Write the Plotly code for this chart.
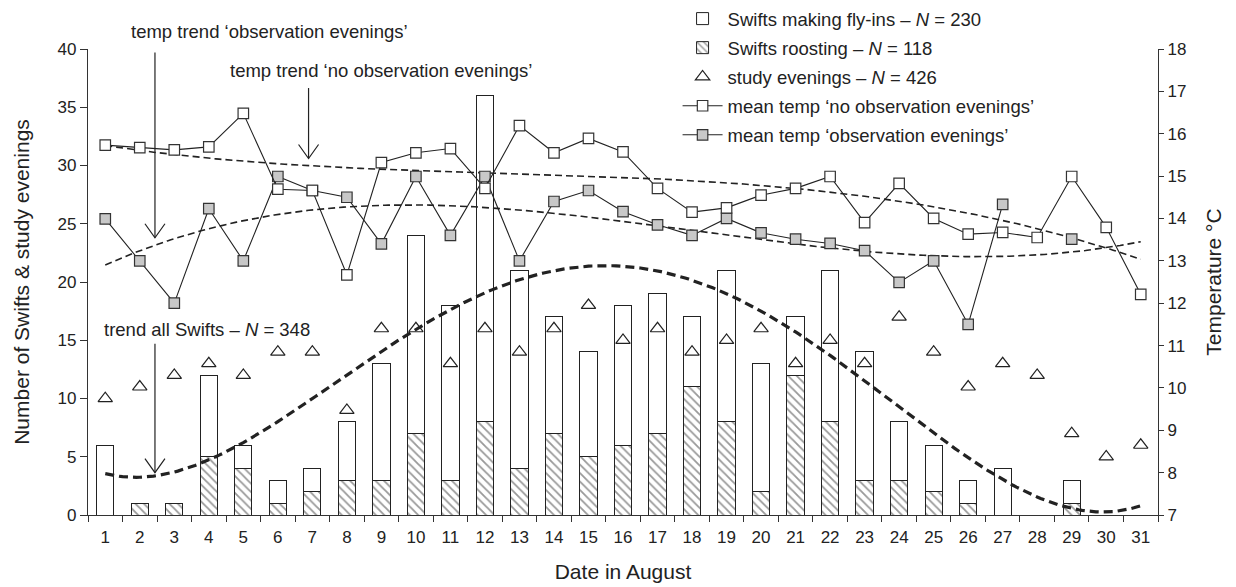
import numpy as np
import plotly.graph_objects as go
from plotly.subplots import make_subplots

# ---- data -------------------------------------------------------------
days = list(range(1, 32))

fly_ins = [6, 0, 0, 7, 2, 2, 2, 5, 10, 17, 15, 28, 17, 10, 9, 12,
           12, 6, 13, 11, 5, 13, 11, 5, 4, 2, 4, 0, 2, 0, 0]
roosting = [0, 1, 1, 5, 4, 1, 2, 3, 3, 7, 3, 8, 4, 7, 5, 6,
            7, 11, 8, 2, 12, 8, 3, 3, 2, 1, 0, 0, 1, 0, 0]
study_evenings = [10, 11, 12, 13, 12, 14, 14, 9, 16, 16, 13, 16, 14, 16, 18, 15,
                  16, 14, 15, 16, 13, 15, 13, 17, 14, 11, 13, 12, 7, 5, 6]

temp_no_obs = [15.73, 15.67, 15.62, 15.69, 16.48, 14.69, 14.66, 12.67, 15.32, 15.55,
               15.65, 14.71, 16.19, 15.55, 15.89, 15.57, 14.71, 14.15, 14.25, 14.55,
               14.71, 14.99, 13.90, 14.83, 14.00, 13.63, 13.67, 13.55, 14.99, 13.79, 12.21]
temp_obs = [13.99, 13.00, 12.00, 14.23, 13.00, 14.99, 14.66, 14.50, 13.40, 14.99,
            13.60, 14.99, 13.00, 14.40, 14.66, 14.16, 13.85, 13.60, 14.00, 13.66,
            13.51, 13.41, 13.24, 12.49, 13.00, 11.50, 14.33, None, 13.51, None, None]

x_ticks = days

# ---- polynomial trend lines ------------------------------------------
all_swifts = [f + r for f, r in zip(fly_ins, roosting)]
xs = np.linspace(1, 31, 301)


def poly_trend(x, y, deg):
    pts = [(a, b) for a, b in zip(x, y) if b is not None]
    px, py = zip(*pts)
    coef = np.polyfit(px, py, deg)
    return np.polyval(coef, xs)


trend_all = poly_trend(days, all_swifts, 4)
trend_no_obs = poly_trend(days, temp_no_obs, 3)
trend_obs = poly_trend(days, temp_obs, 3)


def drop_zero(values):
    # empty bars are left out so no outline is drawn on the baseline
    return [v if v else None for v in values]


# ---- styling ----------------------------------------------------------
FONT = "Liberation Sans, Arial, Helvetica, sans-serif"
INK = "#222222"
EDGE = "#333333"
BAR_EDGE = "#222222"
GREY = "#c8c8c8"

fig = make_subplots(specs=[[{"secondary_y": True}]])

fig.add_trace(go.Bar(
    x=days, y=drop_zero(roosting), name="Swifts roosting – <i>N</i> = 118",
    width=0.5, legendrank=2, legendgroup="b",
    marker=dict(color="white", line=dict(color=BAR_EDGE, width=1.0),
                pattern=dict(shape="\\", fgcolor="#333333", bgcolor="white",
                             size=6, solidity=0.3)),
), secondary_y=False)

fig.add_trace(go.Bar(
    x=days, y=drop_zero(fly_ins), name="Swifts making fly-ins – <i>N</i> = 230",
    width=0.5, legendrank=1, legendgroup="a",
    marker=dict(color="white", line=dict(color=BAR_EDGE, width=1.0)),
), secondary_y=False)

fig.add_trace(go.Scatter(
    x=xs, y=trend_all, mode="lines", showlegend=False, hoverinfo="skip",
    line=dict(color=INK, width=3.2, dash="9px,5px"),
), secondary_y=False)

fig.add_trace(go.Scatter(
    x=days, y=study_evenings, mode="markers", name="study evenings – <i>N</i> = 426",
    legendrank=3, legendgroup="c",
    marker=dict(symbol="triangle-up-open", size=12.5, color=INK, line=dict(width=1.2)),
), secondary_y=False)

fig.add_trace(go.Scatter(
    x=xs, y=trend_no_obs, mode="lines", showlegend=False, hoverinfo="skip",
    line=dict(color=INK, width=1.6, dash="7px,4px"),
), secondary_y=True)

fig.add_trace(go.Scatter(
    x=xs, y=trend_obs, mode="lines", showlegend=False, hoverinfo="skip",
    line=dict(color=INK, width=1.6, dash="7px,4px"),
), secondary_y=True)

fig.add_trace(go.Scatter(
    x=days, y=temp_obs, mode="lines+markers",
    name="mean temp ‘observation evenings’", legendrank=5, legendgroup="e",
    line=dict(color=INK, width=1.1),
    marker=dict(symbol="square", size=10.5, color=GREY, line=dict(color=EDGE, width=1.2)),
), secondary_y=True)

fig.add_trace(go.Scatter(
    x=days, y=temp_no_obs, mode="lines+markers",
    name="mean temp ‘no observation evenings’", legendrank=4, legendgroup="d",
    line=dict(color=INK, width=1.1),
    marker=dict(symbol="square", size=10.5, color="white", line=dict(color=EDGE, width=1.2)),
), secondary_y=True)

# ---- labelled arrows --------------------------------------------------
arrows = [
    # (arrow x, arrow top, arrow tip)
    (2.44, 39.7, 23.8),
    (6.89, 36.65, 30.6),
    (2.44, 14.7, 3.63),
]
for ax_x, y_top, y_tip in arrows:
    fig.add_shape(type="line", x0=ax_x, x1=ax_x, y0=y_top, y1=y_tip,
                  xref="x", yref="y", line=dict(color=INK, width=1.2))
    fig.add_shape(type="path", xref="x", yref="y",
                  xsizemode="pixel", ysizemode="pixel",
                  xanchor=ax_x, yanchor=y_tip,
                  path="M-10,14 L0,0 L10,14",
                  line=dict(color=INK, width=1.2))

labels = [
    # (text, x, y, yref)
    ("temp trend ‘observation evenings’", 5.75, 1.0365, "paper"),
    ("temp trend ‘no observation evenings’", 9.0, 38.15, "y"),
    ("trend all Swifts – <i>N</i> = 348", 3.95, 15.9, "y"),
]
for text, lx, ly, yref in labels:
    fig.add_annotation(x=lx, y=ly, xref="x", yref=yref, text=text,
                       showarrow=False, font=dict(size=18.5, color=INK, family=FONT),
                       xanchor="center", yanchor="middle")

# ---- layout -----------------------------------------------------------
fig.update_layout(
    width=1236, height=587,
    margin=dict(l=88, r=78, t=49, b=72, autoexpand=False),
    barmode="stack", bargap=0.5,
    plot_bgcolor="white", paper_bgcolor="white",
    font=dict(family=FONT, size=17, color=INK),
    showlegend=True,
    legend=dict(x=0.551, y=1.105, xanchor="left", yanchor="top",
                bgcolor="rgba(0,0,0,0)", font=dict(size=18.5, color=INK),
                traceorder="grouped", tracegroupgap=2, itemwidth=40),
)

fig.update_xaxes(
    domain=[0, 1],
    range=[0.5, 31.5], tickmode="array", tickvals=x_ticks,
    ticktext=[str(d) for d in x_ticks],
    ticks="outside", ticklen=6, tickcolor="rgba(0,0,0,0)",
    showline=True, linecolor=EDGE, linewidth=1.3, showgrid=False, zeroline=False,
    minor=dict(tickmode="linear", tick0=0.5, dtick=1, ticks="outside",
               ticklen=6, tickcolor=EDGE, tickwidth=1.3, showgrid=False),
    title=dict(text="Date in August", font=dict(size=21), standoff=18),
    tickfont=dict(size=17), automargin=False,
)

fig.update_yaxes(
    range=[0, 40], dtick=5, ticks="outside", ticklen=7, tickcolor=EDGE, tickwidth=1.3,
    showline=True, linecolor=EDGE, linewidth=1.3, showgrid=False, zeroline=False,
    title=dict(text="Number of Swifts & study evenings", font=dict(size=21), standoff=22),
    tickfont=dict(size=17), automargin=False,
    secondary_y=False,
)

fig.update_yaxes(
    range=[7, 18], dtick=1, ticks="outside", ticklen=5, tickcolor=EDGE, tickwidth=1.3,
    showline=True, linecolor=EDGE, linewidth=1.3, showgrid=False, zeroline=False,
    title=dict(text="Temperature °C", font=dict(size=21), standoff=20),
    tickfont=dict(size=17), automargin=False,
    secondary_y=True,
)

fig.write_html("out.html")
